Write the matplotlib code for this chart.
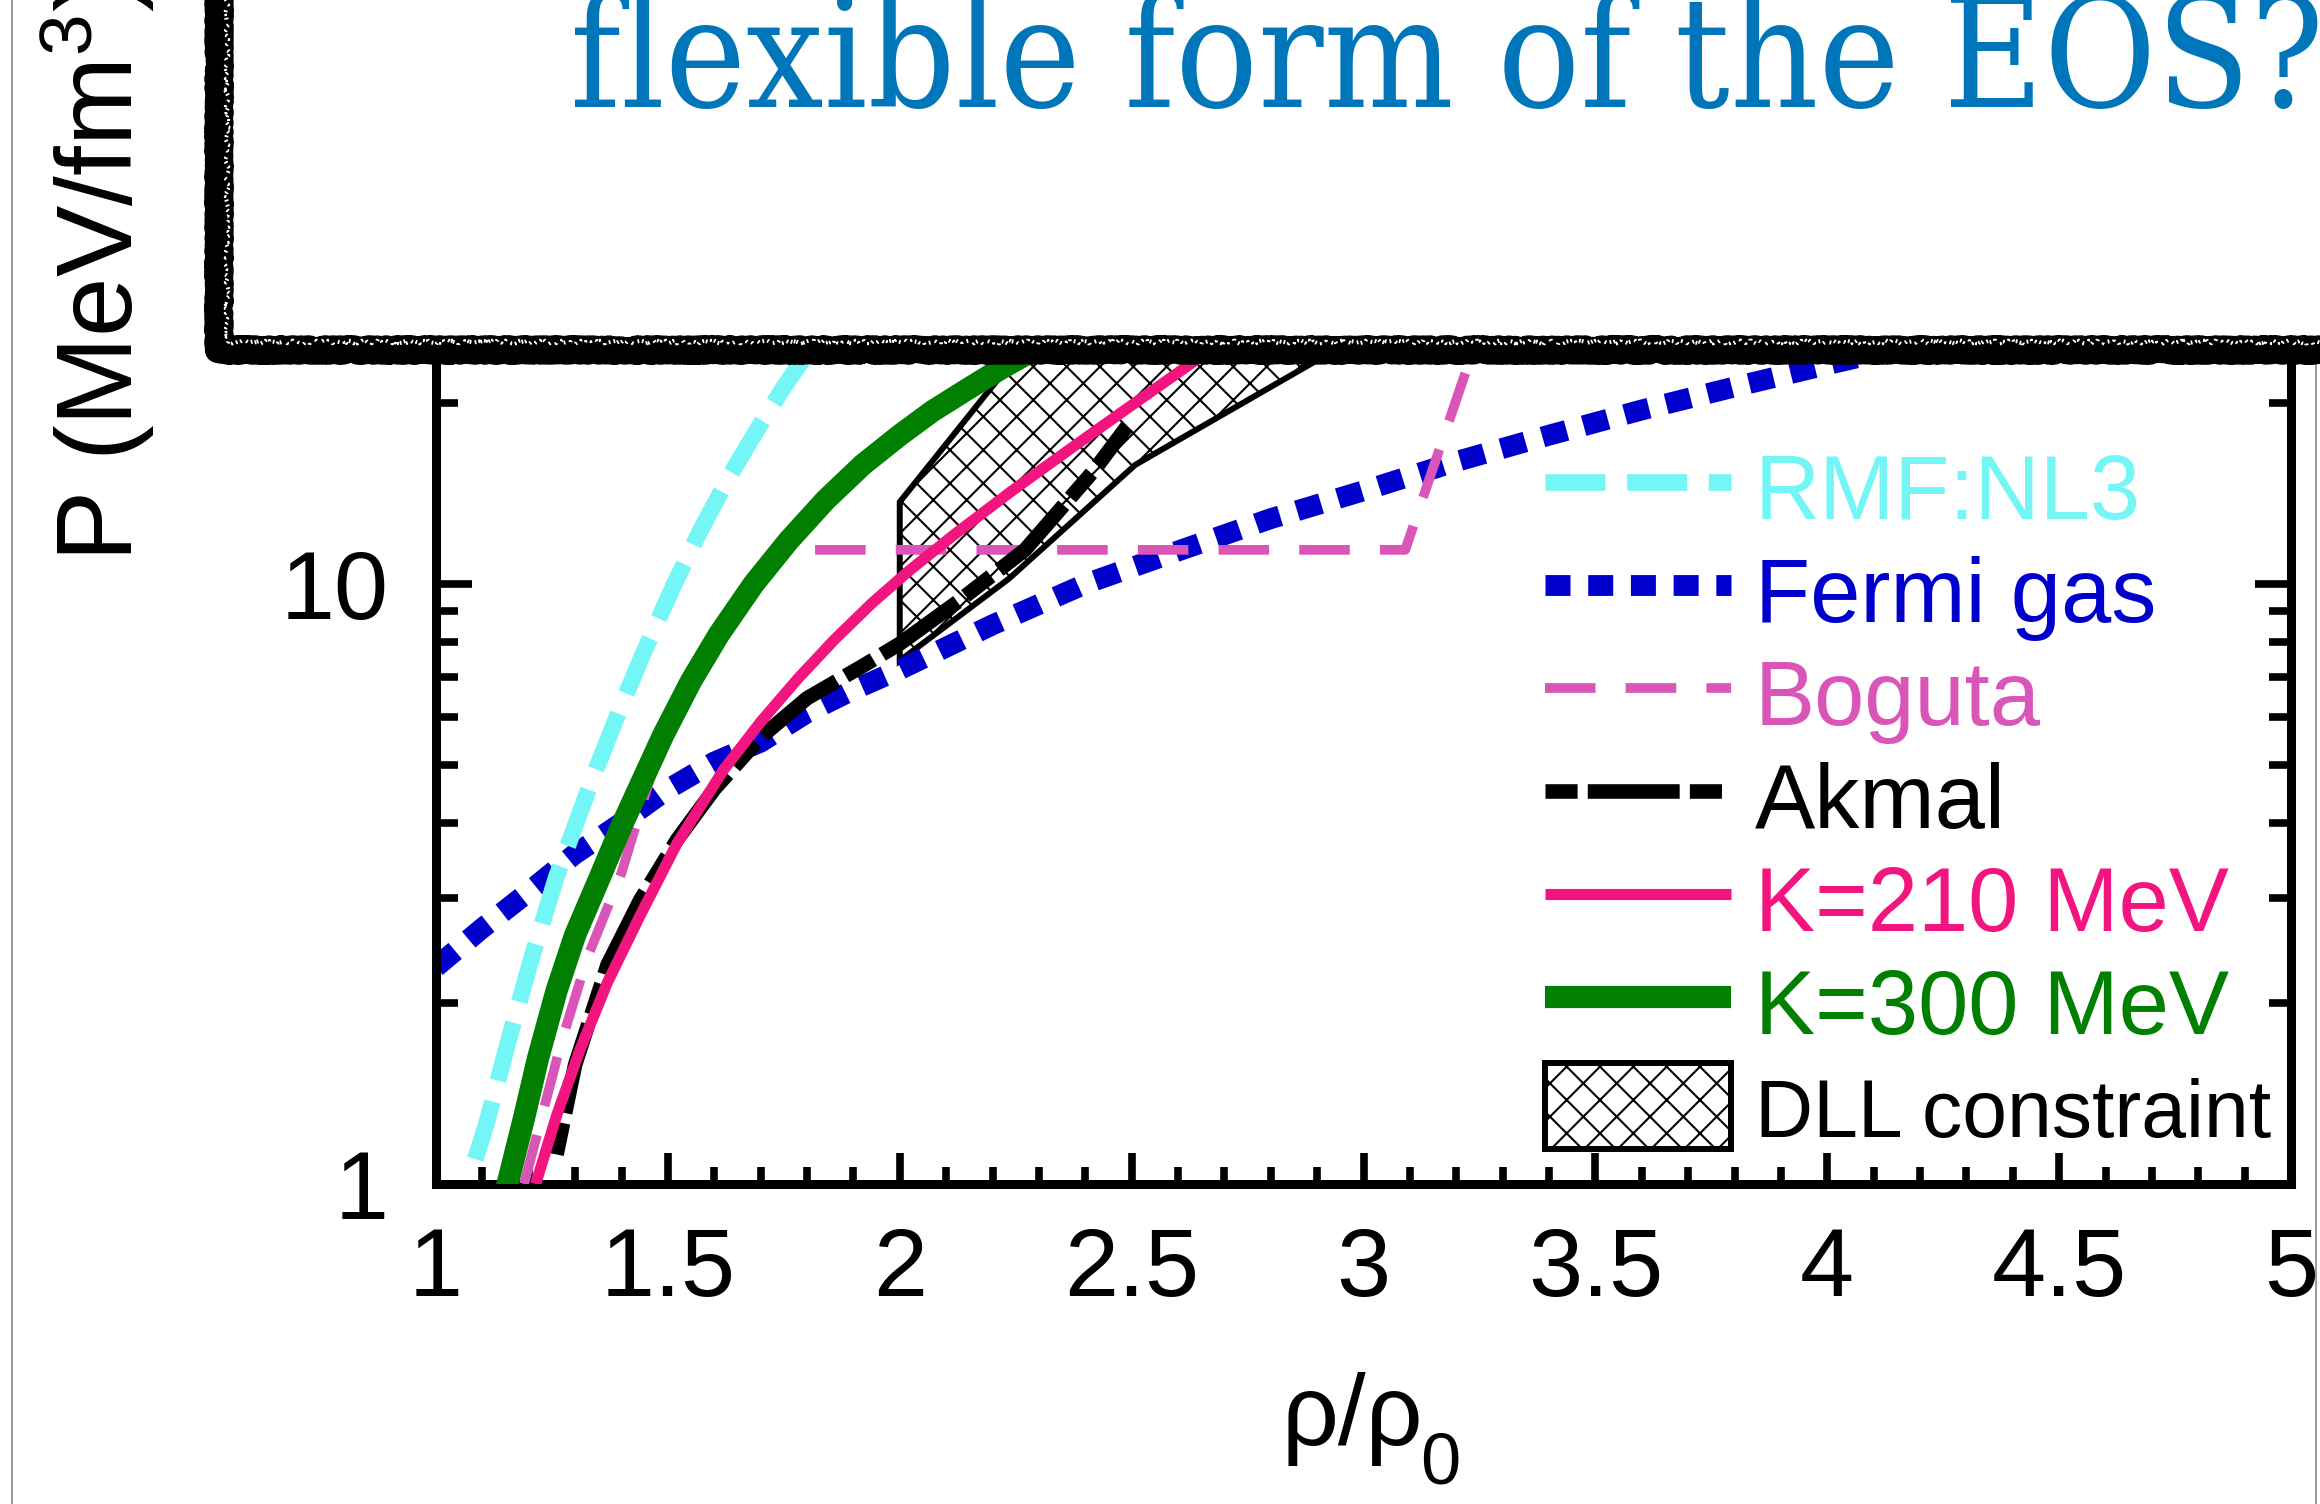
import os
import matplotlib
matplotlib.use("Agg")
import matplotlib.pyplot as plt
import matplotlib.font_manager as fm
from matplotlib.patches import Polygon, Rectangle
from matplotlib.lines import Line2D
from matplotlib.ticker import MultipleLocator, LogLocator, FuncFormatter, NullFormatter

plt.rcParams['font.family'] = ['Liberation Sans', 'DejaVu Sans']
plt.rcParams['mathtext.default'] = 'regular'
plt.rcParams['hatch.linewidth'] = 1.5

# ---------------- data ----------------
rmf_x = [1.085, 1.11, 1.156, 1.204, 1.259, 1.34, 1.40, 1.447, 1.51, 1.568, 1.63, 1.689, 1.75, 1.80, 1.84]
rmf_y = [1.10, 1.27, 1.73, 2.35, 3.24, 4.8, 6.28, 7.67, 9.85, 12.2, 15.0, 17.9, 21.3, 24.2, 26.6]

fermi_x = [1.0, 1.1, 1.2, 1.3, 1.4, 1.5, 1.6, 1.7, 1.8, 1.9, 2.0, 2.2, 2.4, 2.6,
           2.8, 3.0, 3.2, 3.4, 3.6, 3.8, 4.0, 4.2]
fermi_y = [2.30, 2.67, 3.07, 3.55, 4.0, 4.55, 5.05, 5.45, 6.1, 6.66, 7.2, 8.55, 10.0,
           11.35, 12.85, 14.3, 16.0, 17.7, 19.5, 21.3, 23.2, 25.2]

boguta_x = [1.19, 1.224, 1.269, 1.326, 1.40, 1.49, 1.55, 1.61, 1.685, 1.735, 3.09, 3.24]
boguta_y = [1.0, 1.26, 1.71, 2.38, 3.3, 5.6, 6.89, 8.24, 10.0, 11.4, 11.4, 25.0]

akmal_x = [1.26, 1.30, 1.37, 1.44, 1.52, 1.60, 1.70, 1.80, 1.92, 2.0, 2.13, 2.27, 2.42, 2.49]
akmal_y = [1.12, 1.58, 2.32, 2.97, 3.75, 4.55, 5.55, 6.45, 7.3, 7.95, 9.4, 11.4, 15.5, 18.3]

k210_x = [1.215, 1.26, 1.31, 1.37, 1.44, 1.52, 1.62, 1.70, 1.78, 1.86, 1.94, 2.02,
          2.12, 2.24, 2.36, 2.48, 2.62, 2.66]
k210_y = [1.0, 1.3, 1.67, 2.17, 2.8, 3.7, 4.9, 5.89, 6.95, 8.09, 9.29, 10.52,
          12.13, 14.26, 16.63, 19.36, 23.07, 24.3]

k300_x = [1.15, 1.19, 1.22, 1.26, 1.30, 1.35, 1.40, 1.49, 1.55, 1.61, 1.685, 1.76,
          1.84, 1.92, 2.0, 2.07, 2.145, 2.22, 2.30]
k300_y = [0.97, 1.29, 1.62, 2.1, 2.6, 3.2, 3.95, 5.6, 6.89, 8.24, 10.0, 11.8,
          13.8, 15.8, 17.7, 19.4, 21.1, 22.9, 24.8]

dll_x = [2.0, 2.235, 2.508, 2.90, 3.14, 2.36, 2.235, 2.0]
dll_y = [7.45, 10.2, 15.8, 23.6, 30.0, 30.0, 23.1, 13.7]

labels = ['RMF:NL3', 'Fermi gas', 'Boguta', 'Akmal', 'K=210 MeV', 'K=300 MeV', 'DLL constraint']
colors = ['#74F6F6', '#0000CD', '#DA55B8', '#000000', '#F2157F', '#007F00', '#000000']

x_major = 0.5
x_minor = 0.1
xlim = (1, 5)
ylim = (1, 100)
title_text = 'flexible form of the EOS?'
xlabel_main = 'ρ/ρ'
xlabel_sub = '0'
ylabel_text = 'P (MeV/fm$^3$)'

# ---------------- figure ----------------
W, H = 2320, 1504
fig = plt.figure(figsize=(W / 100, H / 100), dpi=100)
ax = fig.add_axes([436 / W, (H - 1184) / H, (2291 - 436) / W, 1200 / H])
ax.set_yscale('log')
ax.set_xlim(*xlim)
ax.set_ylim(*ylim)

dll = Polygon(list(zip(dll_x, dll_y)), closed=True, facecolor='white',
              edgecolor='black', hatch='x', lw=4.3, zorder=1, label=labels[6])
ax.add_patch(dll)

l_fg, = ax.plot(fermi_x, fermi_y, color=colors[1], lw=15, dashes=(1.2, 0.85),
                label=labels[1], zorder=2)
l_rmf, = ax.plot(rmf_x, rmf_y, color=colors[0], lw=12, dashes=(3.6, 1.3),
                 label=labels[0], zorder=3)
l_bog, = ax.plot(boguta_x, boguta_y, color=colors[2], lw=7, dashes=(5.2, 3.1),
                 label=labels[2], zorder=3)
l_ak, = ax.plot(akmal_x, akmal_y, color=colors[3], lw=10.5, dashes=(2.2, 0.7, 6.3, 0.7),
                label=labels[3], zorder=4)
l_300, = ax.plot(k300_x, k300_y, color=colors[5], lw=16, label=labels[5], zorder=5,
                 solid_capstyle='butt', solid_joinstyle='round')
l_210, = ax.plot(k210_x, k210_y, color=colors[4], lw=8, label=labels[4], zorder=6,
                 solid_capstyle='butt', solid_joinstyle='round')

for sp in ax.spines.values():
    sp.set_linewidth(6.5)

ax.xaxis.set_major_locator(MultipleLocator(x_major))
ax.xaxis.set_minor_locator(MultipleLocator(x_minor))
ax.yaxis.set_major_locator(LogLocator(base=10))
ax.yaxis.set_minor_locator(LogLocator(base=10, subs=range(2, 10)))
ax.xaxis.set_major_formatter(FuncFormatter(lambda v, p: f'{v:g}'))
ax.yaxis.set_major_formatter(FuncFormatter(lambda v, p: f'{v:g}'))
ax.yaxis.set_minor_formatter(NullFormatter())

ax.tick_params(which='both', direction='in', top=True, right=True, width=5.5,
               labelsize=70)
ax.tick_params(axis='y', which='major', length=26, pad=34)
ax.tick_params(axis='y', which='minor', length=16)
ax.tick_params(axis='x', which='major', length=22, pad=30)
ax.tick_params(axis='x', which='minor', length=12)

# x label (rho/rho_0) with a low, large subscript as in the picture
fig.text(1282 / W, 1 - 1445 / H, xlabel_main, fontsize=72, ha='left', va='baseline')
fig.text(1420 / W, 1 - 1484 / H, xlabel_sub, fontsize=52, ha='left', va='baseline')

leg = ax.legend(handles=[l_rmf, l_fg, l_bog, l_ak, l_210, l_300, dll],
                loc='upper left', bbox_to_anchor=(0.598, 0.616), frameon=False,
                fontsize=65, handlelength=2.06, handleheight=1.1, handletextpad=0.26,
                labelspacing=0.11, borderpad=0, borderaxespad=0)
for t, c in zip(leg.get_texts(), colors):
    t.set_color(c)
leg.get_texts()[-1].set_fontsize(58)
leg.set_zorder(8)

# slide frame lines
fig.add_artist(Line2D([12 / W, 12 / W], [0, 1], color='#8a8a8a', lw=1.2,
                      transform=fig.transFigure, zorder=15))
fig.add_artist(Line2D([2316 / W, 2316 / W], [0, 1], color='#8a8a8a', lw=1.2,
                      transform=fig.transFigure, zorder=15))

# y label
fig.text(133 / W, 1 - 562 / H, ylabel_text, rotation=90, rotation_mode='anchor',
         ha='left', va='baseline', fontsize=77)

# white title box with rough black border
box = Rectangle((219 / W, (H - 350) / H), 1.5, 1.0, transform=fig.transFigure,
                facecolor='white', edgecolor='black', lw=19, zorder=20,
                joinstyle='round', capstyle='round')
box.set_sketch_params(scale=1.6, length=7, randomness=6)
fig.add_artist(box)
speck = Rectangle((227 / W, (H - 342) / H), 1.5, 1.0, transform=fig.transFigure,
                  facecolor='none', edgecolor='white', lw=1.3, zorder=21,
                  linestyle=(0, (1.5, 3.5)), joinstyle='round', capstyle='round')
speck.set_sketch_params(scale=2.5, length=5, randomness=8)
fig.add_artist(speck)

# title text (condensed serif if available)
cond = [f.fname for f in fm.fontManager.ttflist
        if os.path.basename(f.fname) == 'DejaVuSerifCondensed.ttf']
if cond:
    tprops = fm.FontProperties(fname=cond[0], size=110)
else:
    tprops = fm.FontProperties(family='DejaVu Serif', size=100.5)
fig.text(570 / W, 1 - 107 / H, title_text, fontproperties=tprops,
         color='#0076BA', ha='left', va='baseline', zorder=22)

fig.savefig('out.png', dpi=100, facecolor='white')
